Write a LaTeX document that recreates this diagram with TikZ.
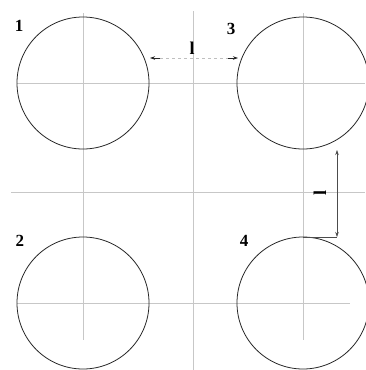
\documentclass[tikz,border=0pt]{standalone}
\usepackage{fontspec}
\setmainfont{Liberation Serif}
\usetikzlibrary{arrows.meta}
\tikzset{
  ring/.style={circle, draw=black!85, line width=0.8pt, minimum size=132pt, inner sep=0pt},
  axisline/.style={draw=black!22, line width=0.7pt},
  numlabel/.style={font=\fontsize{17}{17}\selectfont\bfseries, inner sep=0pt},
  dimlabel/.style={font=\fontsize{18}{18}\selectfont\bfseries, inner sep=0pt},
  dimline/.style={draw=black!25, line width=0.6pt, dash pattern=on 3pt off 3pt},
  dimarrow/.style={draw=black!85, line width=0.7pt, -{Stealth[length=5pt,width=3.5pt]}},
  thinline/.style={draw=black!70, line width=0.5pt}
}
\begin{document}
\begin{tikzpicture}[x=1pt,y=-1pt]
\useasboundingbox (0,0) rectangle (365,370);
% center lines
\draw[axisline] (17,83) -- (365,83);
\draw[axisline] (11,192) -- (365,192);
\draw[axisline] (17,303) -- (350,303);
\draw[axisline] (83,13) -- (83,340);
\draw[axisline] (193,11) -- (193,370);
\draw[axisline] (303,13) -- (303,340);
% circles
\node[ring] (c1) at (83,83) {};
\node[ring] (c3) at (303,83) {};
\node[ring] (c2) at (83,303) {};
\node[ring] (c4) at (303,303) {};
% labels
\node[numlabel] (n1) at (19,26) {1};
\node[numlabel] (n3) at (231,29) {3};
\node[numlabel] (n2) at (20,241) {2};
\node[numlabel] (n4) at (244,241) {4};
% horizontal dimension
\coordinate (hL) at (150,58);
\coordinate (hLi) at (160,58);
\coordinate (hR) at (238,58);
\coordinate (hRi) at (228,58);
\draw[dimline] (hLi) -- (hRi);
\draw[dimarrow] (hLi) -- (hL);
\draw[dimarrow] (hRi) -- (hR);
\node[dimlabel] (dl1) at (192,48) {l};
% vertical dimension
\coordinate (vT) at (337,150);
\coordinate (vB) at (337,237);
\coordinate (vE) at (303,237);
\draw[thinline] (vE) -- (vB);
\draw[thinline, {Stealth[length=5pt,width=3.5pt]}-{Stealth[length=5pt,width=3.5pt]}] (vT) -- (vB);
\node[dimlabel, rotate=90] (dl2) at (320,193) {l};
\end{tikzpicture}
\end{document}
